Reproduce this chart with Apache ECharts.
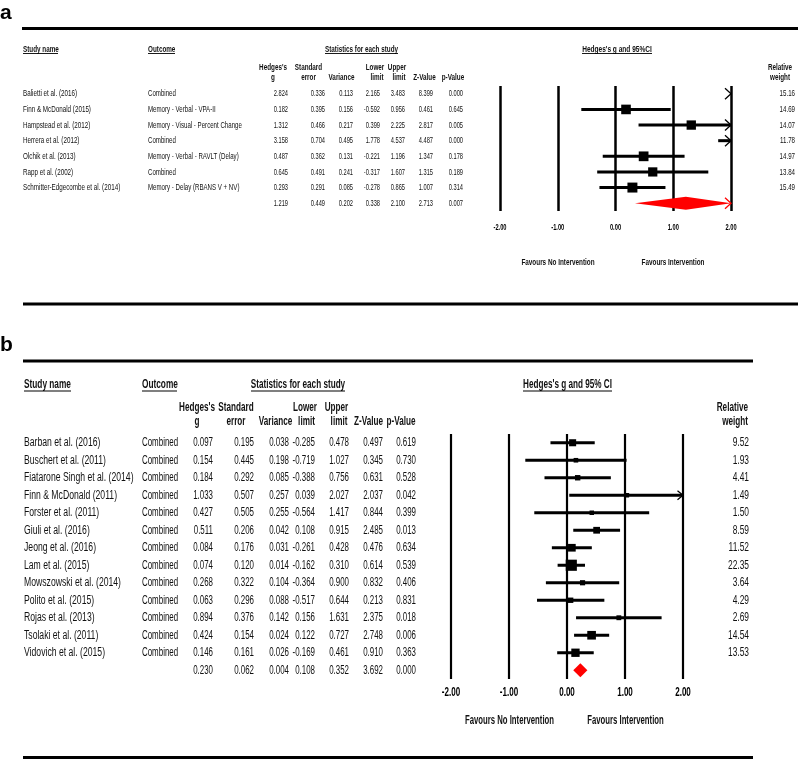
<!DOCTYPE html>
<html><head><meta charset="utf-8">
<script src="https://cdn.jsdelivr.net/npm/echarts@6/dist/echarts.min.js"></script>
<style>html,body{margin:0;padding:0;background:#fff}#c{width:798px;height:759px}</style>
</head><body><div id="c"></div><script>
// ---------- Panel a data ----------
const aStudy = ["Balietti et al. (2016)", "Finn & McDonald (2015)", "Hampstead et al. (2012)", "Herrera et al. (2012)", "Olchik et al. (2013)", "Rapp et al. (2002)", "Schmitter-Edgecombe et al. (2014)"];
const aOutcome = ["Combined", "Memory - Verbal - VPA-II", "Memory - Visual - Percent Change", "Combined", "Memory - Verbal - RAVLT (Delay)", "Combined", "Memory - Delay (RBANS V + NV)"];
const aG = [2.824, 0.182, 1.312, 3.158, 0.487, 0.645, 0.293];
const aSE = [0.336, 0.395, 0.466, 0.704, 0.362, 0.491, 0.291];
const aVar = [0.113, 0.156, 0.217, 0.495, 0.131, 0.241, 0.085];
const aLower = [2.165, -0.592, 0.399, 1.778, -0.221, -0.317, -0.278];
const aUpper = [3.483, 0.956, 2.225, 4.537, 1.196, 1.607, 0.865];
const aZ = [8.399, 0.461, 2.817, 4.487, 1.347, 1.315, 1.007];
const aP = [0.000, 0.645, 0.005, 0.000, 0.178, 0.189, 0.314];
const aWeight = [15.16, 14.69, 14.07, 11.78, 14.97, 13.84, 15.49];
const aPooled = [1.219, 0.449, 0.202, 0.338, 2.100, 2.713, 0.007]; // g, se, var, lower, upper, z, p

// ---------- Panel b data ----------
const bStudy = ["Barban et al. (2016)", "Buschert et al. (2011)", "Fiatarone Singh et al. (2014)", "Finn & McDonald (2011)", "Forster et al. (2011)", "Giuli et al. (2016)", "Jeong et al. (2016)", "Lam et al. (2015)", "Mowszowski et al. (2014)", "Polito et al. (2015)", "Rojas et al. (2013)", "Tsolaki et al. (2011)", "Vidovich et al. (2015)"];
const bOutcome = ["Combined", "Combined", "Combined", "Combined", "Combined", "Combined", "Combined", "Combined", "Combined", "Combined", "Combined", "Combined", "Combined"];
const bG = [0.097, 0.154, 0.184, 1.033, 0.427, 0.511, 0.084, 0.074, 0.268, 0.063, 0.894, 0.424, 0.146];
const bSE = [0.195, 0.445, 0.292, 0.507, 0.505, 0.206, 0.176, 0.120, 0.322, 0.296, 0.376, 0.154, 0.161];
const bVar = [0.038, 0.198, 0.085, 0.257, 0.255, 0.042, 0.031, 0.014, 0.104, 0.088, 0.142, 0.024, 0.026];
const bLower = [-0.285, -0.719, -0.388, 0.039, -0.564, 0.108, -0.261, -0.162, -0.364, -0.517, 0.156, 0.122, -0.169];
const bUpper = [0.478, 1.027, 0.756, 2.027, 1.417, 0.915, 0.428, 0.310, 0.900, 0.644, 1.631, 0.727, 0.461];
const bZ = [0.497, 0.345, 0.631, 2.037, 0.844, 2.485, 0.476, 0.614, 0.832, 0.213, 2.375, 2.748, 0.910];
const bP = [0.619, 0.730, 0.528, 0.042, 0.399, 0.013, 0.634, 0.539, 0.406, 0.831, 0.018, 0.006, 0.363];
const bWeight = [9.52, 1.93, 4.41, 1.49, 1.50, 8.59, 11.52, 22.35, 3.64, 4.29, 2.69, 14.54, 13.53];
const bPooled = [0.230, 0.062, 0.004, 0.108, 0.352, 3.692, 0.000];

// ---------- axis ----------
const xTicks = [-2, -1, 0, 1, 2];
const xMin = -2, xMax = 2;

// ---------- helpers ----------
const FONT = '"Liberation Sans", Arial, Helvetica, sans-serif';
function T(x, y, s, size, o) {
  o = o || {};
  const align = o.align || 'left';
  return {
    type: 'text', x: x, y: y, scaleX: o.sx || 1, silent: true,
    style: { text: s, x: 0, y: 0, font: (o.bold ? 'bold ' : '') + size + 'px ' + FONT,
      fill: o.color || '#111', textAlign: align, textVerticalAlign: 'middle', align: align, verticalAlign: 'middle' }
  };
}
function L(x1, y1, x2, y2, w, c) {
  return { type: 'line', silent: true, shape: { x1: x1, y1: y1, x2: x2, y2: y2 }, style: { stroke: c || '#000', lineWidth: w } };
}

function makeTable(names, outcomes, cols, pooled, weights, lay) {
  return function (params, api) {
    const i = params.dataIndex;
    const y = api.coord([0, api.value(1)])[1];
    const ch = [];
    const isPooled = i >= names.length;
    if (!isPooled) {
      ch.push(T(lay.nameX, y, names[i], lay.size, { sx: lay.nameSx }));
      ch.push(T(lay.outX, y, outcomes[i], lay.size, { sx: lay.outSx }));
      ch.push(T(lay.wX, y, weights[i].toFixed(2), lay.size, { sx: lay.wSx, align: 'right' }));
    }
    const vals = isPooled ? pooled : cols.map(function (c) { return c[i]; });
    vals.forEach(function (v, k) {
      ch.push(T(lay.colX[k], y, v.toFixed(3), lay.size, { sx: lay.numSx, align: 'right' }));
    });
    return { type: 'group', children: ch };
  };
}

function makeForest(lay) {
  return function (params, api) {
    const g = api.value(0), row = api.value(1), lo = api.value(2), hi = api.value(3), w = api.value(4), pooled = api.value(5);
    const y = api.coord([0, row])[1];
    const xL = api.coord([xMin, row])[0], xR = api.coord([xMax, row])[0];
    const cx = function (v) { return Math.max(xL, Math.min(xR, api.coord([v, row])[0])); };
    const x1 = cx(lo), x2 = cx(hi), xg = api.coord([g, row])[0];
    const ch = [];
    const col = pooled ? '#ff0000' : '#000';
    if (pooled) {
      ch.push({ type: 'polygon', silent: true, shape: { points: [[x1, y], [xg, y - lay.dh], [x2, y], [xg, y + lay.dh]] }, style: { fill: '#ff0000' } });
    } else {
      if (x2 > x1) ch.push(L(x1, y, x2, y, lay.lw));
      if (g >= xMin && g <= xMax) {
        const s = lay.sBase + lay.sK * w;
        ch.push({ type: 'rect', silent: true, shape: { x: xg - s / 2, y: y - s / 2, width: s, height: s }, style: { fill: '#000' } });
      }
    }
    if (hi > xMax) ch.push({ type: 'polyline', silent: true, shape: { points: [[xR - lay.aw, y - lay.ah], [xR, y], [xR - lay.aw, y + lay.ah]] }, style: { stroke: col, lineWidth: 1.3, fill: null } });
    if (lo < xMin) ch.push({ type: 'polyline', silent: true, shape: { points: [[xL + lay.aw, y - lay.ah], [xL, y], [xL + lay.aw, y + lay.ah]] }, style: { stroke: col, lineWidth: 1.3, fill: null } });
    return { type: 'group', children: ch };
  };
}

function makeTicks(lay) {
  return function (params, api) {
    const v = api.value(0);
    const x = api.coord([v, 0])[0];
    const y = params.coordSys.y + params.coordSys.height + lay.off;
    return T(x, y, v.toFixed(2), lay.size, { sx: lay.sx, bold: true, align: 'center', color: '#000' });
  };
}

function forestData(g, lo, hi, wt, pooled) {
  const d = g.map(function (v, i) { return [v, i, lo[i], hi[i], wt[i], 0]; });
  d.push([pooled[0], g.length, pooled[3], pooled[4], 0, 1]);
  return d;
}
function rowData(n) { const d = []; for (let i = 0; i <= n; i++) d.push([0, i]); return d; }

const aRows = aStudy.concat(['Summary']);
const bRows = bStudy.concat(['Summary']);

const axisX = function (gi, lw) {
  return { type: 'value', gridIndex: gi, min: xMin, max: xMax, interval: 1,
    axisLine: { show: false }, axisTick: { show: false }, axisLabel: { show: false },
    splitLine: { show: true, lineStyle: { color: '#000', width: lw } } };
};
const axisY = function (gi, rows) {
  return { type: 'category', gridIndex: gi, data: rows, inverse: true, show: false };
};

// ---------- header graphics ----------
const HA = 9.5, HB = 12;
const gfx = [
  T(0, 13, 'a', 21, { bold: true, color: '#000' }),
  T(0, 345, 'b', 21, { bold: true, color: '#000' }),
  L(22, 28.5, 798, 28.5, 3.2),
  L(23, 304, 798, 304, 3),
  L(23, 361, 753, 361, 3),
  L(23, 757.5, 753, 757.5, 3.2),
  // panel a headers
  T(23, 49, 'Study name', HA, { bold: true, sx: 0.665 }), L(23, 53.5, 58, 53.5, 0.9),
  T(148, 49, 'Outcome', HA, { bold: true, sx: 0.665 }), L(148, 53.5, 175, 53.5, 0.9),
  T(361.5, 49, 'Statistics for each study', HA, { bold: true, sx: 0.665, align: 'center' }), L(325, 53.5, 398, 53.5, 0.9),
  T(617, 49, "Hedges's g and 95%CI", HA, { bold: true, sx: 0.69, align: 'center' }), L(582, 53.5, 652, 53.5, 0.9),
  T(273, 67, "Hedges's", HA, { bold: true, sx: 0.665, align: 'center' }), T(273, 77, 'g', HA, { bold: true, sx: 0.665, align: 'center' }),
  T(308.5, 67, 'Standard', HA, { bold: true, sx: 0.665, align: 'center' }), T(308.5, 77, 'error', HA, { bold: true, sx: 0.665, align: 'center' }),
  T(341.5, 77, 'Variance', HA, { bold: true, sx: 0.665, align: 'center' }),
  T(375, 67, 'Lower', HA, { bold: true, sx: 0.665, align: 'center' }), T(377, 77, 'limit', HA, { bold: true, sx: 0.665, align: 'center' }),
  T(397, 67, 'Upper', HA, { bold: true, sx: 0.665, align: 'center' }), T(399, 77, 'limit', HA, { bold: true, sx: 0.665, align: 'center' }),
  T(424.5, 77, 'Z-Value', HA, { bold: true, sx: 0.665, align: 'center' }),
  T(453, 77, 'p-Value', HA, { bold: true, sx: 0.665, align: 'center' }),
  T(780, 67, 'Relative', HA, { bold: true, sx: 0.665, align: 'center' }), T(780, 77, 'weight', HA, { bold: true, sx: 0.665, align: 'center' }),
  T(558, 262, 'Favours No Intervention', HA, { bold: true, sx: 0.67, align: 'center' }),
  T(673, 262, 'Favours Intervention', HA, { bold: true, sx: 0.67, align: 'center' }),
  // panel b headers
  T(24, 385, 'Study name', HB, { bold: true, sx: 0.69 }), L(24, 391, 71, 391, 1.1),
  T(142, 385, 'Outcome', HB, { bold: true, sx: 0.69 }), L(142, 391, 177, 391, 1.1),
  T(298, 385, 'Statistics for each study', HB, { bold: true, sx: 0.68, align: 'center' }), L(251, 391, 345, 391, 1.1),
  T(567.5, 385, "Hedges's g and 95% CI", HB, { bold: true, sx: 0.68, align: 'center' }), L(523, 391, 612, 391, 1.1),
  T(197, 408, "Hedges's", HB, { bold: true, sx: 0.68, align: 'center' }), T(197, 422, 'g', HB, { bold: true, sx: 0.68, align: 'center' }),
  T(236, 408, 'Standard', HB, { bold: true, sx: 0.68, align: 'center' }), T(236, 422, 'error', HB, { bold: true, sx: 0.68, align: 'center' }),
  T(275.5, 422, 'Variance', HB, { bold: true, sx: 0.68, align: 'center' }),
  T(305, 408, 'Lower', HB, { bold: true, sx: 0.68, align: 'center' }), T(306.5, 422, 'limit', HB, { bold: true, sx: 0.68, align: 'center' }),
  T(336.5, 408, 'Upper', HB, { bold: true, sx: 0.68, align: 'center' }), T(339, 422, 'limit', HB, { bold: true, sx: 0.68, align: 'center' }),
  T(368.5, 422, 'Z-Value', HB, { bold: true, sx: 0.68, align: 'center' }),
  T(401, 422, 'p-Value', HB, { bold: true, sx: 0.68, align: 'center' }),
  T(748, 408, 'Relative', HB, { bold: true, sx: 0.68, align: 'right' }), T(748, 422, 'weight', HB, { bold: true, sx: 0.68, align: 'right' }),
  T(509.5, 721, 'Favours No Intervention', HB, { bold: true, sx: 0.645, align: 'center' }),
  T(625.5, 721, 'Favours Intervention', HB, { bold: true, sx: 0.645, align: 'center' })
];

const layA = { nameX: 23, outX: 148, size: 9.5, nameSx: 0.66, outSx: 0.645, numSx: 0.6, wSx: 0.65, wX: 795, colX: [288, 325, 353, 380, 405, 433, 463] };
const layB = { nameX: 24, outX: 142, size: 12, nameSx: 0.72, outSx: 0.66, numSx: 0.66, wSx: 0.7, wX: 749, colX: [213, 254, 289, 315, 349, 383, 416] };

const chart = echarts.init(document.getElementById('c'), null, { renderer: 'canvas' });
chart.setOption({
  animation: false,
  backgroundColor: '#fff',
  grid: [
    { left: 500, top: 86, width: 231, height: 125, containLabel: false, outerBoundsMode: 'none' },
    { left: 451, top: 434, width: 232, height: 245, containLabel: false, outerBoundsMode: 'none' }
  ],
  xAxis: [axisX(0, 2.5), axisX(1, 2.2)],
  yAxis: [axisY(0, aRows), axisY(1, bRows)],
  graphic: { elements: gfx },
  series: [
    { type: 'custom', name: 'Panel a table', xAxisIndex: 0, yAxisIndex: 0, clip: false, encode: { x: 0, y: 1 },
      data: rowData(aStudy.length), renderItem: makeTable(aStudy, aOutcome, [aG, aSE, aVar, aLower, aUpper, aZ, aP], aPooled, aWeight, layA) },
    { type: 'custom', name: 'Panel a forest', xAxisIndex: 0, yAxisIndex: 0, clip: false, encode: { x: 0, y: 1 },
      data: forestData(aG, aLower, aUpper, aWeight, aPooled),
      renderItem: makeForest({ lw: 3, sBase: 3, sK: 0.45, dh: 6.5, aw: 6, ah: 5.5 }) },
    { type: 'custom', name: 'Panel a ticks', xAxisIndex: 0, yAxisIndex: 0, clip: false, encode: { x: 0, y: 1 },
      data: xTicks.map(function (v) { return [v, 0]; }), renderItem: makeTicks({ off: 16, size: 9.5, sx: 0.6 }) },
    { type: 'custom', name: 'Panel b table', xAxisIndex: 1, yAxisIndex: 1, clip: false, encode: { x: 0, y: 1 },
      data: rowData(bStudy.length), renderItem: makeTable(bStudy, bOutcome, [bG, bSE, bVar, bLower, bUpper, bZ, bP], bPooled, bWeight, layB) },
    { type: 'custom', name: 'Panel b forest', xAxisIndex: 1, yAxisIndex: 1, clip: false, encode: { x: 0, y: 1 },
      data: forestData(bG, bLower, bUpper, bWeight, bPooled),
      renderItem: makeForest({ lw: 3, sBase: 4, sK: 0.32, dh: 7, aw: 5.5, ah: 4.5 }) },
    { type: 'custom', name: 'Panel b ticks', xAxisIndex: 1, yAxisIndex: 1, clip: false, encode: { x: 0, y: 1 },
      data: xTicks.map(function (v) { return [v, 0]; }), renderItem: makeTicks({ off: 14, size: 12, sx: 0.67 }) }
  ]
});
</script></body></html>
